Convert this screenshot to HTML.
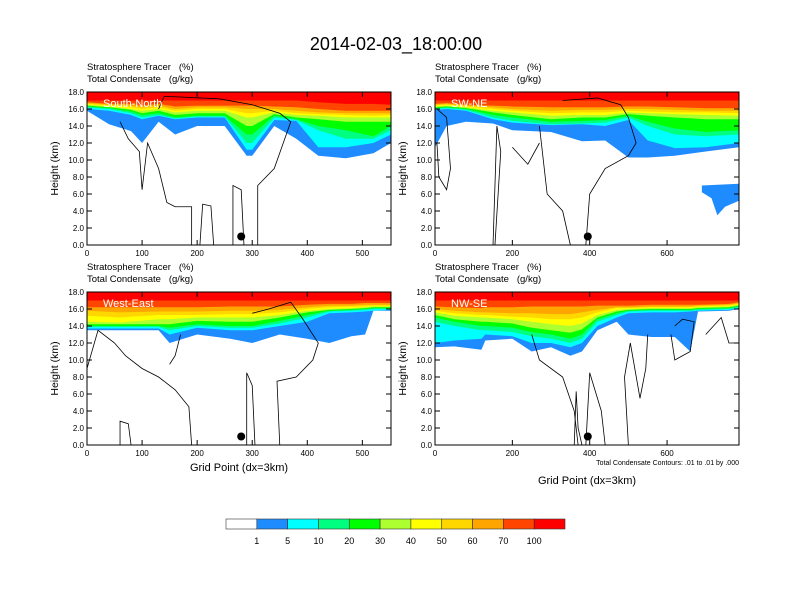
<!DOCTYPE html>
<html><head><meta charset="utf-8"><style>
html,body{margin:0;padding:0;background:#fff;}
svg{display:block;font-family:"Liberation Sans",sans-serif;}
text{white-space:pre;}
</style></head><body>
<svg id="chart" width="792" height="612" viewBox="0 0 792 612" xmlns="http://www.w3.org/2000/svg">
<text x="396" y="50" font-size="18" text-anchor="middle">2014-02-03_18:00:00</text>
<g id="panels"></g>
<g id="colorbar"></g>
</svg>
<script>
const colors = ["#1e8cff","#00ffff","#00ff80","#00ff00","#adff2f","#ffff00","#ffd700","#ffa500","#ff4500","#ff0000"];
const cbLabels = ["1","5","10","20","30","40","50","60","70","100"];
const panelNames = ["South-North","SW-NE","West-East","NW-SE"];

// Panel 1: South-North
const p1x = [0,40,80,100,130,160,200,250,290,300,340,380,420,470,520,552];
const p1Levels = [
 [15.8,14.2,13.4,12,14.5,13,14,14,10.5,10.5,14,12.5,10.5,10.2,10.8,12],
 [16,15.8,15.3,14.8,15.2,14.8,15,15,11.2,11.2,14.7,14.6,11.5,11.5,12,13],
 [16.2,16,15.5,15,15.3,14.9,15.1,15.1,12,12,15,14.7,13.5,12.5,12.5,13.5],
 [16.3,16.1,15.7,15.3,15.5,15,15.2,15.2,13,13,15.2,14.8,14,13.5,12.8,14],
 [16.4,16.2,15.9,15.5,15.8,15.3,15.5,15.5,14,14,15.4,15,14.8,14.5,14.5,14.5],
 [16.5,16.3,16,15.8,16,15.6,15.8,15.8,15,15,15.6,15.3,15.2,15,15,15],
 [16.6,16.4,16.2,16,16.2,15.8,16,16,15.5,15.5,15.8,15.5,15.4,15.3,15.2,15.3],
 [16.7,16.5,16.4,16.2,16.4,16,16.2,16.2,16,16,16,15.8,15.6,15.5,15.5,15.5],
 [16.8,16.6,16.6,16.4,16.6,16.3,16.4,16.4,16.4,16.4,16.3,16.2,16,15.8,15.8,15.8],
 [17,17,17,17,17,17,17,17,17,17,17,17,16.8,16.6,16.6,16.5]
];
// Panel 2: SW-NE
const p2x = [0,30,80,150,200,300,380,440,500,550,620,700,786];
const p2Levels = [
 [11.5,14,14.5,14.3,13.5,13.3,12.2,12.3,10.3,10.3,10.5,11,11.5],
 [15.9,16,15.8,14.8,14.4,14.1,14.2,14,14.7,12.3,11.4,11.5,12],
 [16,16.1,15.9,15,14.6,14.2,14.3,14.4,15,14,13,12.8,13],
 [16.1,16.2,16,15.3,15,14.5,14.6,14.7,15.2,14.5,13.7,13.3,13.5],
 [16.2,16.3,16.1,15.6,15.3,14.8,15,15,15.4,15.2,15,14.8,14.8],
 [16.3,16.4,16.2,15.8,15.6,15.2,15.3,15.3,15.6,15.5,15.4,15.3,15.2],
 [16.4,16.5,16.3,16,15.8,15.5,15.6,15.6,15.8,15.7,15.6,15.6,15.5],
 [16.5,16.6,16.4,16.2,16,15.8,15.9,15.9,16,16,15.9,15.8,15.8],
 [16.6,16.7,16.5,16.4,16.3,16.2,16.2,16.2,16.3,16.3,16.2,16.1,16.1],
 [17,17,17,17,17,17,17,17,17,17,17,17,17]
];
// Panel 3: West-East
const p3x = [0,60,130,150,200,260,300,350,400,440,480,505,520,552];
const p3Levels = [
 [13.5,13.5,13.5,12,13,12.5,12,13,12.5,12,12.8,13,15.8,15.8],
 [13.7,13.7,13.7,13,13.8,13.5,13.5,14,14.5,15.5,15.6,15.7,15.8,15.9],
 [13.9,13.9,13.9,13.5,14,13.8,13.8,14.3,15,15.7,15.8,15.9,16,16],
 [14,14,14,13.8,14.2,14,14,14.6,15.3,15.8,15.9,16,16.1,16.1],
 [14.2,14.2,14.2,14.2,14.6,14.5,14.5,15,15.6,15.9,16,16.1,16.2,16.2],
 [14.5,14.4,14.8,14.8,15,15,15,15.3,15.8,16,16.1,16.2,16.3,16.3],
 [15.2,15,15.3,15.3,15.3,15.4,15.4,15.6,16,16.2,16.3,16.3,16.4,16.4],
 [15.8,15.6,15.7,15.7,15.7,15.8,15.8,15.9,16.2,16.4,16.4,16.5,16.5,16.5],
 [16.2,16.2,16.2,16.2,16.2,16.3,16.3,16.3,16.5,16.6,16.6,16.7,16.7,16.7],
 [17,17,17,17,17,17,17,17,17,17,17,17,17,17]
];
// Panel 4: NW-SE
const p4x = [0,50,120,130,200,250,300,350,380,420,470,500,560,620,660,680,760,786];
const p4Levels = [
 [11.5,11.6,11.2,12.3,12.5,11,11.5,10.5,11,13.5,14.5,13,12.7,12.7,11,15.7,15.8,16],
 [12,12.3,12.5,13,12.8,12,12,11.5,12,14,15,15.5,15.6,15.6,15.7,15.8,15.9,16.1],
 [14.5,14,13.5,13.5,13.3,12.8,12.5,12,12.5,14.5,15.3,15.7,15.8,15.8,15.8,15.9,16,16.2],
 [15,14.5,14,14,13.8,13.3,13,12.5,13,14.8,15.5,15.8,15.9,15.9,15.9,16,16.1,16.3],
 [15.3,14.8,14.5,14.5,14.3,13.8,13.5,13.2,13.6,15,15.7,15.9,16,16,16,16.1,16.2,16.4],
 [15.6,15.2,15,15,14.8,14.5,14.2,14,14.3,15.3,15.9,16,16.1,16.1,16.1,16.2,16.3,16.5],
 [15.8,15.5,15.3,15.3,15.1,15,14.8,14.8,15,15.6,16.1,16.1,16.2,16.2,16.2,16.3,16.4,16.6],
 [16,15.8,15.6,15.6,15.5,15.5,15.4,15.4,15.6,15.9,16.2,16.2,16.3,16.3,16.3,16.4,16.5,16.7],
 [16.3,16.2,16.1,16.2,16.2,16.3,16.3,16.3,16.3,16.4,16.4,16.4,16.5,16.5,16.5,16.5,16.6,16.8],
 [17,17,17,17,17,17,17,17,17,17,17,17,17,17,17,17,17,17]
];
// contour lines (grid point, km)
const p1Contours = [
 [[60,14.5],[75,12.5],[95,11],[100,6.5],[110,12],[130,9],[145,5],[160,4.5],[190,4.5],[190,0]],
 [[310,0],[310,7],[340,9],[370,14.5],[350,15.5],[300,16.5],[240,17.2],[140,17.5],[130,16]],
 [[265,0],[265,7],[280,6.5],[285,0]],
 [[205,0],[210,4.8],[225,4.6],[230,0]]
];
const p2Contours = [
 [[5,16],[30,15],[40,9],[30,6.5],[10,8],[5,12]],
 [[150,0],[160,14],[170,11],[155,0]],
 [[270,14],[290,6],[330,4],[350,0]],
 [[390,0],[400,6],[440,9],[500,10.5],[520,12],[500,15],[480,16.5],[420,17.3],[330,17]],
 [[200,11.5],[240,9.5],[270,12]]
];
const p3Contours = [
 [[0,9],[20,13.5],[50,12],[70,10.5],[100,9],[130,8],[160,6.5],[185,4.5],[190,0]],
 [[150,9.5],[160,10.5],[170,13]],
 [[290,0],[290,8.5],[300,7],[305,0]],
 [[350,0],[345,7.5],[380,8],[410,10],[420,12],[390,15],[370,16.8],[330,16],[300,15.5]],
 [[60,0],[60,2.8],[75,2.5],[80,0]]
];
const p4Contours = [
 [[250,13],[270,10],[330,8],[360,4],[370,0]],
 [[390,0],[400,8.5],[430,4],[440,0]],
 [[500,0],[490,8],[505,12],[530,5.5],[545,9],[550,13]],
 [[610,13],[620,10],[660,11],[670,14.5],[640,14.8],[620,14]],
 [[700,13],[740,15],[760,12],[786,12]],
 [[360,0],[365,6.3],[370,2],[380,0]]
];
const dotX = [280,395,280,395];
const panelX = [p1x,p2x,p3x,p4x];
const panelL = [p1Levels,p2Levels,p3Levels,p4Levels];
const panelC = [p1Contours,p2Contours,p3Contours,p4Contours];
const xMax = [552,786,552,786];
const xTicks = [[0,100,200,300,400,500],[0,200,400,600],[0,100,200,300,400,500],[0,200,400,600]];
const yTicks = [0,2,4,6,8,10,12,14,16,18];

const NS="http://www.w3.org/2000/svg";
function mk(tag,attrs,parent){const e=document.createElementNS(NS,tag);for(const k in attrs)e.setAttribute(k,attrs[k]);parent.appendChild(e);return e;}
const boxes=[{x:87,y:92},{x:435,y:92},{x:87,y:292},{x:435,y:292}];
const W=304,H=153;
const root=document.getElementById('panels');
for(let p=0;p<4;p++){
  const bx=boxes[p].x, by=boxes[p].y;
  const sx=v=>bx+v/xMax[p]*W, sy=v=>by+H-v/18*H;
  const g=mk('g',{},root);
  
  
  const t1=mk('text',{x:bx,y:by-22,'font-size':9.5},g);t1.textContent="Stratosphere Tracer   (%)";
  
  
  const t2=mk('text',{x:bx,y:by-10,'font-size':9.5},g);t2.textContent="Total Condensate   (g/kg)";
  
  
  const xs=panelX[p];
  panelL[p].forEach((lv,i)=>{
    let pts=`${sx(xs[0])},${sy(18)} `;
    xs.forEach((x,j)=>{pts+=`${sx(x)},${sy(lv[j])} `;});
    pts+=`${sx(xs[xs.length-1])},${sy(18)}`;
    const pg=mk('polygon',{points:pts,fill:colors[i]},g);
    
    
  });
  if(p===1){
    const bl=mk('polygon',{points:`${sx(690)},${sy(7)} ${sx(786)},${sy(7.2)} ${sx(786)},${sy(5.2)} ${sx(750)},${sy(4.5)} ${sx(730)},${sy(3.5)} ${sx(715)},${sy(5.5)} ${sx(690)},${sy(6.2)}`,fill:colors[0]},g);
    
    
  }
  panelC[p].forEach(c=>{
    const pl=mk('polyline',{points:c.map(q=>sx(q[0])+','+sy(q[1])).join(' '),fill:'none',stroke:'#000','stroke-width':0.8},g);
    
    
  });
  const lab=mk('text',{x:bx+16,y:by+15,'font-size':11,fill:'#fff'},g);lab.textContent=panelNames[p];
  
  
  const dot=mk('circle',{cx:sx(dotX[p]),cy:sy(1),r:4,fill:'#000'},g);
  
  
  const fr=mk('rect',{x:bx,y:by,width:W,height:H,fill:'none',stroke:'#000','stroke-width':1},g);
  
  
  yTicks.forEach(v=>{
    mk('line',{x1:bx,x2:bx+5,y1:sy(v),y2:sy(v),stroke:'#000'},g);
    mk('line',{x1:bx+W,x2:bx+W-5,y1:sy(v),y2:sy(v),stroke:'#000'},g);
    const tl=mk('text',{x:bx-3,y:sy(v)+3,'font-size':8,'text-anchor':'end'},g);tl.textContent=v.toFixed(1);
    
    
  });
  xTicks[p].forEach(v=>{
    mk('line',{x1:sx(v),x2:sx(v),y1:by+H,y2:by+H-5,stroke:'#000'},g);
    mk('line',{x1:sx(v),x2:sx(v),y1:by,y2:by+5,stroke:'#000'},g);
    const tl=mk('text',{x:sx(v),y:by+H+11,'font-size':8,'text-anchor':'middle'},g);tl.textContent=v;
    
    
  });
  const ya=mk('text',{x:0,y:0,'font-size':10.5,'text-anchor':'middle',transform:`translate(${bx-29},${by+H/2}) rotate(-90)`},g);ya.textContent="Height (km)";
  
  
}
const xa1=mk('text',{x:239,y:471,'font-size':11,'text-anchor':'middle'},root);xa1.textContent="Grid Point (dx=3km)";


const xa2=mk('text',{x:587,y:484,'font-size':11,'text-anchor':'middle'},root);xa2.textContent="Grid Point (dx=3km)";


const note=mk('text',{x:739,y:465,'font-size':7,'text-anchor':'end'},root);note.textContent="Total Condensate Contours: .01 to .01 by .000";



const cb=document.getElementById('colorbar');
const cbColors=["#ffffff"].concat(colors);
const cbx=226, cbw=339/11;
cbColors.forEach((c,i)=>{
  const r=mk('rect',{x:cbx+i*cbw,y:519,width:cbw,height:10,fill:c,stroke:'#333','stroke-width':0.6},cb);
  
  
});
cbLabels.forEach((l,i)=>{
  const t=mk('text',{x:cbx+(i+1)*cbw,y:544,'font-size':9,'text-anchor':'middle'},cb);t.textContent=l;
  
  
});
</script>
</body></html>
